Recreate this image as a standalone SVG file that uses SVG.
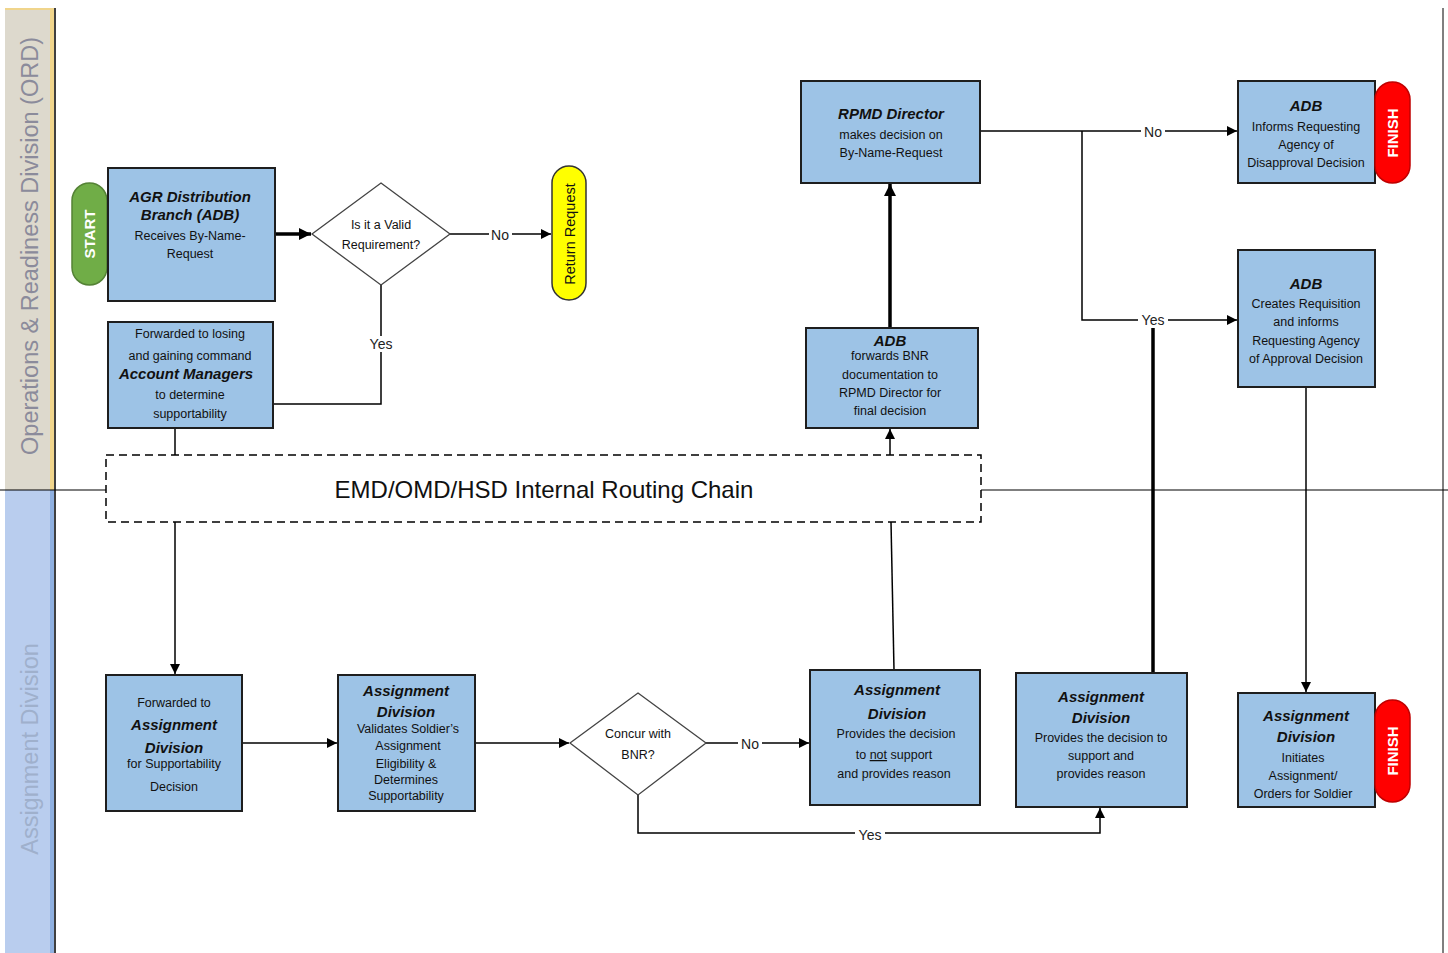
<svg xmlns="http://www.w3.org/2000/svg" width="1448" height="953" viewBox="0 0 1448 953">
<defs>
<marker id="ah" viewBox="0 0 10 10" refX="10" refY="5" markerWidth="10" markerHeight="10" markerUnits="userSpaceOnUse" orient="auto">
<path d="M0,0 L10,5 L0,10 z" fill="#000"/>
</marker>
<marker id="ahb" viewBox="0 0 10 10" refX="10" refY="5" markerWidth="12" markerHeight="12" markerUnits="userSpaceOnUse" orient="auto">
<path d="M0,0 L10,5 L0,10 z" fill="#000"/>
</marker>
</defs>
<style>
.box{fill:#9dc3e6;stroke:#1e1e1e;stroke-width:2}
.dia{fill:#fff;stroke:#444;stroke-width:1.3}
.t{font-family:"Liberation Sans",Arial,sans-serif;font-size:12.5px;fill:#111;text-anchor:middle}
.h{font-family:"Liberation Sans",Arial,sans-serif;font-size:15px;font-weight:bold;font-style:italic;fill:#111;text-anchor:middle}
.lbl{font-family:"Liberation Sans",Arial,sans-serif;font-size:14px;fill:#222;text-anchor:middle}
.c{fill:none;stroke:#000;stroke-width:1.5}
.ck{fill:none;stroke:#000;stroke-width:3.5}
.lane{font-family:"Liberation Sans",Arial,sans-serif;font-size:23.5px;text-anchor:middle}
.pillt{font-family:"Liberation Sans",Arial,sans-serif;font-size:15px;font-weight:bold;fill:#fff;text-anchor:middle}
</style>
<rect width="1448" height="953" fill="#fff"/>
<g id="lanes">
<rect x="5" y="8" width="49" height="482" fill="#ddd9cd"/>
<rect x="50" y="8" width="4" height="482" fill="#f0d58c"/>
<rect x="5" y="8" width="49" height="2" fill="#f0d58c"/>
<rect x="5" y="490" width="49" height="463" fill="#b9cdee"/>
<rect x="50" y="490" width="4" height="463" fill="#8fb0e0"/>
<line x1="55" y1="8" x2="55" y2="953" stroke="#000" stroke-width="1.5"/>
<line x1="0" y1="490" x2="106" y2="490" stroke="#000" stroke-width="1.2"/>
<line x1="981" y1="490" x2="1448" y2="490" stroke="#000" stroke-width="1.2"/>
<line x1="1443" y1="8" x2="1443" y2="953" stroke="#000" stroke-width="1"/>
<text class="lane" fill="#8b8b9b" transform="translate(38,246) rotate(-90)">Operations &amp; Readiness Division (ORD)</text>
<text class="lane" fill="#9fb0cc" transform="translate(38,749) rotate(-90)">Assignment Division</text>
</g>
<g id="connectors">
<line class="ck" x1="275" y1="234" x2="311" y2="234" marker-end="url(#ahb)"/>
<line class="c" x1="450" y1="234" x2="551" y2="234" marker-end="url(#ah)"/>
<rect x="489" y="226" width="23" height="16" fill="#fff"/>
<text class="lbl" x="500" y="240">No</text>
<polyline class="c" points="381,285 381,404 273,404"/>
<rect x="366" y="336" width="30" height="16" fill="#fff"/>
<text class="lbl" x="381" y="349">Yes</text>
<line class="c" x1="175" y1="428" x2="175" y2="455"/>
<line class="c" x1="175" y1="522" x2="175" y2="674" marker-end="url(#ah)"/>
<line class="c" x1="242" y1="743" x2="337" y2="743" marker-end="url(#ah)"/>
<line class="c" x1="475" y1="743" x2="569" y2="743" marker-end="url(#ah)"/>
<line class="c" x1="706" y1="743" x2="809" y2="743" marker-end="url(#ah)"/>
<rect x="738" y="736" width="24" height="16" fill="#fff"/>
<text class="lbl" x="750" y="749">No</text>
<polyline class="c" points="638,795 638,833 1100,833 1100,808" marker-end="url(#ah)"/>
<rect x="855" y="826" width="30" height="16" fill="#fff"/>
<text class="lbl" x="870" y="840">Yes</text>
<line class="c" x1="894" y1="670" x2="891" y2="522"/>
<line class="c" x1="890" y1="455" x2="890" y2="429" marker-end="url(#ah)"/>
<line class="ck" x1="890" y1="328" x2="890" y2="184" marker-end="url(#ahb)"/>
<line class="c" x1="980" y1="131" x2="1237" y2="131" marker-end="url(#ah)"/>
<polyline class="c" points="1082,131 1082,320 1237,320" marker-end="url(#ah)"/>
<line class="ck" x1="1153" y1="673" x2="1153" y2="328"/>
<rect x="1141" y="124" width="24" height="16" fill="#fff"/>
<text class="lbl" x="1153" y="137">No</text>
<rect x="1138" y="312" width="30" height="15" fill="#fff"/>
<text class="lbl" x="1153" y="325">Yes</text>
<line class="c" x1="1306" y1="387" x2="1306" y2="692" marker-end="url(#ah)"/>
</g>
<g id="start">
<rect x="72" y="183" width="35" height="102" rx="17.5" fill="#70ad47" stroke="#548235" stroke-width="1.5"/>
<text class="pillt" transform="translate(95,234) rotate(-90)">START</text>
</g>
<g id="agr">
<rect class="box" x="108" y="168" width="167" height="133"/>
<text class="h" x="190" y="202">AGR Distribution</text>
<text class="h" x="190" y="220">Branch (ADB)</text>
<text class="t" x="190" y="240">Receives By-Name-</text>
<text class="t" x="190" y="258">Request</text>
</g>
<g id="valid">
<polygon class="dia" points="381,183 450,234 381,285 312,234"/>
<text class="t" x="381" y="229">Is it a Valid</text>
<text class="t" x="381" y="249">Requirement?</text>
</g>
<g id="return">
<rect x="552" y="166" width="34" height="134" rx="17" fill="#ffff00" stroke="#333" stroke-width="1.5"/>
<text class="t" style="font-size:14.5px" transform="translate(575,234) rotate(-90)">Return Request</text>
</g>
<g id="forwarded">
<rect class="box" x="108" y="322" width="165" height="106"/>
<text class="t" x="190" y="338">Forwarded to losing</text>
<text class="t" x="190" y="360">and gaining command</text>
<text class="h" x="186" y="379">Account Managers</text>
<text class="t" x="190" y="399">to determine</text>
<text class="t" x="190" y="418">supportability</text>
</g>
<g id="routing">
<rect x="106" y="455" width="875" height="67" fill="#fff" stroke="#000" stroke-width="1.5" stroke-dasharray="8,5"/>
<text x="544" y="498" font-family="'Liberation Sans',Arial,sans-serif" font-size="24" fill="#111" text-anchor="middle">EMD/OMD/HSD Internal Routing Chain</text>
</g>
<g id="fwdassign">
<rect class="box" x="106" y="675" width="136" height="136"/>
<text class="t" x="174" y="707">Forwarded to</text>
<text class="h" x="174" y="730">Assignment</text>
<text class="h" x="174" y="753">Division</text>
<text class="t" x="174" y="768">for Supportability</text>
<text class="t" x="174" y="791">Decision</text>
</g>
<g id="validates">
<rect class="box" x="338" y="675" width="137" height="136"/>
<text class="h" x="406" y="696">Assignment</text>
<text class="h" x="406" y="717">Division</text>
<text class="t" x="408" y="733">Validates Soldier’s</text>
<text class="t" x="408" y="750">Assignment</text>
<text class="t" x="406" y="768">Eligibility &amp;</text>
<text class="t" x="406" y="784">Determines</text>
<text class="t" x="406" y="800">Supportability</text>
</g>
<g id="concur">
<polygon class="dia" points="638,693 706,743 638,795 570,743"/>
<text class="t" x="638" y="738">Concur with</text>
<text class="t" x="638" y="759">BNR?</text>
</g>
<g id="notsupport">
<rect class="box" x="810" y="670" width="170" height="135"/>
<text class="h" x="897" y="695">Assignment</text>
<text class="h" x="897" y="719">Division</text>
<text class="t" x="896" y="738">Provides the decision</text>
<text class="t" x="894" y="759">to <tspan text-decoration="underline">not</tspan> support</text>
<text class="t" x="894" y="778">and provides reason</text>
</g>
<g id="support">
<rect class="box" x="1016" y="673" width="171" height="134"/>
<text class="h" x="1101" y="702">Assignment</text>
<text class="h" x="1101" y="723">Division</text>
<text class="t" x="1101" y="742">Provides the decision to</text>
<text class="t" x="1101" y="760">support and</text>
<text class="t" x="1101" y="778">provides reason</text>
</g>
<g id="adbforward">
<rect class="box" x="806" y="328" width="172" height="100"/>
<text class="h" x="890" y="346">ADB</text>
<text class="t" x="890" y="360">forwards BNR</text>
<text class="t" x="890" y="379">documentation to</text>
<text class="t" x="890" y="397">RPMD Director for</text>
<text class="t" x="890" y="415">final decision</text>
</g>
<g id="rpmd">
<rect class="box" x="801" y="81" width="179" height="102"/>
<text class="h" x="891" y="119">RPMD Director</text>
<text class="t" x="891" y="139">makes decision on</text>
<text class="t" x="891" y="157">By-Name-Request</text>
</g>
<g id="adbdisapprove">
<rect class="box" x="1238" y="81" width="137" height="102"/>
<text class="h" x="1306" y="111">ADB</text>
<text class="t" x="1306" y="131">Informs Requesting</text>
<text class="t" x="1306" y="149">Agency of</text>
<text class="t" x="1306" y="167">Disapproval Decision</text>
</g>
<g id="finish1">
<rect x="1375" y="82" width="35" height="101" rx="17.5" fill="#ff0000" stroke="#c00000" stroke-width="1.5"/>
<text class="pillt" transform="translate(1398,133) rotate(-90)">FINISH</text>
</g>
<g id="adbapprove">
<rect class="box" x="1238" y="250" width="137" height="137"/>
<text class="h" x="1306" y="289">ADB</text>
<text class="t" x="1306" y="308">Creates Requisition</text>
<text class="t" x="1306" y="326">and informs</text>
<text class="t" x="1306" y="345">Requesting Agency</text>
<text class="t" x="1306" y="363">of Approval Decision</text>
</g>
<g id="initiates">
<rect class="box" x="1238" y="693" width="137" height="114"/>
<text class="h" x="1306" y="721">Assignment</text>
<text class="h" x="1306" y="742">Division</text>
<text class="t" x="1303" y="762">Initiates</text>
<text class="t" x="1303" y="780">Assignment/</text>
<text class="t" x="1303" y="798">Orders for Soldier</text>
</g>
<g id="finish2">
<rect x="1375" y="700" width="35" height="102" rx="17.5" fill="#ff0000" stroke="#c00000" stroke-width="1.5"/>
<text class="pillt" transform="translate(1398,751) rotate(-90)">FINISH</text>
</g>
</svg>
